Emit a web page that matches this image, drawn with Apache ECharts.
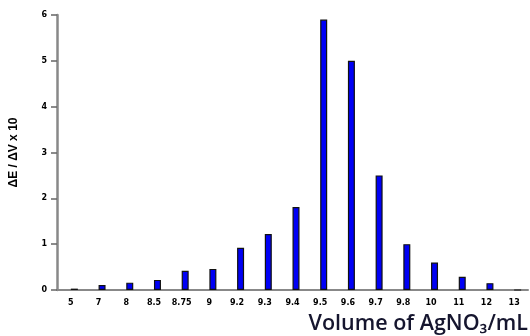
<!DOCTYPE html>
<html><head><meta charset="utf-8">
<script src="https://cdn.jsdelivr.net/npm/echarts@6/dist/echarts.min.js"></script>
<style>html,body{margin:0;padding:0;background:#fff}#c{width:530px;height:336px}</style>
</head><body><div id="c"></div>
<script>
const categories = ['5','7','8','8.5','8.75','9','9.2','9.3','9.4','9.5','9.6','9.7','9.8','10','11','12','13'];
const values = [0.03,0.11,0.16,0.22,0.42,0.46,0.92,1.22,1.81,5.9,5.0,2.5,1.0,0.6,0.29,0.15,0];
const yTicks = [0,1,2,3,4,5,6];
const yLabel = 'ΔE / ΔV x 10';
const xLabel = 'Volume of AgNO₃/mL';

const chart = echarts.init(document.getElementById('c'), null, {renderer:'canvas'});
chart.setOption({
  animation:false,
  backgroundColor:'#fff',
  title:{text:xLabel, right:-3, bottom:-4, textStyle:{fontFamily:'Open Sans', fontSize:21.5, fontWeight:600, color:'#15152e'}},
  grid:{left:57, right:2, top:15, bottom:46},
  xAxis:{type:'category', data:categories, boundaryGap:true,
    axisLine:{lineStyle:{color:'#888', width:2}},
    axisTick:{alignWithLabel:true, length:6, lineStyle:{color:'#333', width:1.5}},
    axisLabel:{interval:0, margin:9, fontFamily:'DejaVu Sans', fontWeight:'bold', fontSize:8, color:'#000'}},
  yAxis:{type:'value', min:yTicks[0], max:yTicks[yTicks.length-1], interval:1,
    name:yLabel, nameLocation:'middle', nameRotate:90, nameGap:37,
    nameTextStyle:{fontFamily:'Liberation Sans', fontWeight:'bold', fontSize:12, color:'#000'},
    splitLine:{show:false},
    axisLine:{show:true, lineStyle:{color:'#888', width:2.5}},
    axisTick:{show:true, length:6, lineStyle:{color:'#666', width:1.5}},
    axisLabel:{margin:10, fontFamily:'DejaVu Sans', fontWeight:'bold', fontSize:8, color:'#000'}},
  series:[
    {type:'bar', data:[], barWidth:7, barGap:'0%'},
    {type:'bar', data:values, barWidth:7, barGap:'0%',
     itemStyle:{color:'#0000f5', borderColor:'#111', borderWidth:1.2}}
  ]
});
</script></body></html>
